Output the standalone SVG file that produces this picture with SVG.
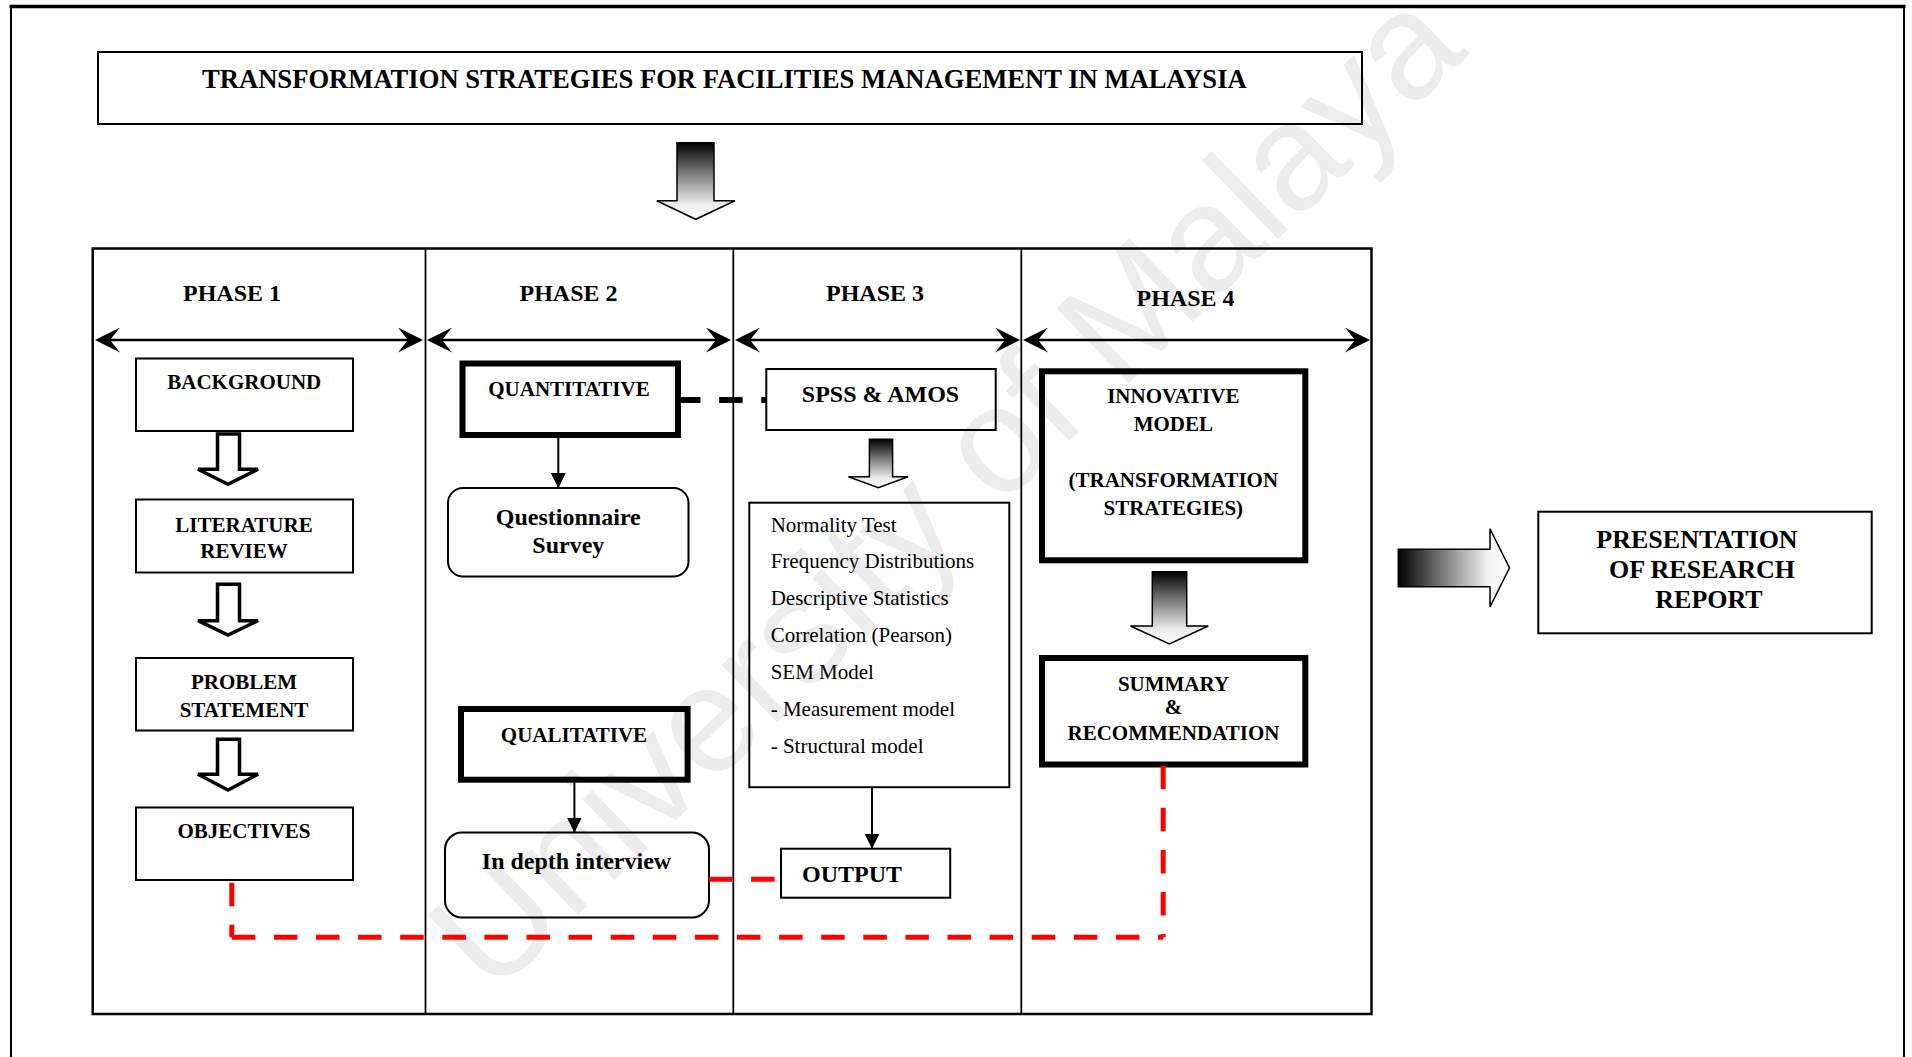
<svg xmlns="http://www.w3.org/2000/svg" width="1912" height="1057" viewBox="0 0 1912 1057">
  <defs>
    <style>
      .box { fill: none; stroke: #000; stroke-width: 2; }
      .heavy { fill: none; stroke: #000; stroke-width: 6; }
      .lbl { font-family: "Liberation Serif", "Times New Roman", serif; font-weight: bold; fill: #000; }
      .item { font-family: "Liberation Serif", "Times New Roman", serif; font-size: 21px; fill: #000; }
      .s21 { font-size: 21px; }
      .s24 { font-size: 24px; }
      .mid { text-anchor: middle; }
      .span { fill: none; stroke: #000; stroke-width: 2.5; marker-start: url(#barb); marker-end: url(#barb); }
      .link { fill: none; stroke: #000; stroke-width: 2; marker-end: url(#tri); }
      .hollow { fill: #fff; stroke: #000; stroke-width: 3.5; stroke-linejoin: miter; }
      .shade { stroke: #000; stroke-width: 1.5; }
      .red { fill: none; stroke: #ff0000; stroke-width: 5; stroke-dasharray: 23.5 18.6; }
      .blk { fill: none; stroke: #000; stroke-width: 6; stroke-dasharray: 23.5 18.6; }
    </style>
    <linearGradient id="fadeDown" x1="0" y1="0" x2="0" y2="1">
      <stop offset="0" stop-color="#000"/>
      <stop offset="0.45" stop-color="#8a8a8a"/>
      <stop offset="0.8" stop-color="#ececec"/>
      <stop offset="1" stop-color="#fff"/>
    </linearGradient>
    <linearGradient id="fadeRight" x1="0" y1="0" x2="1" y2="0">
      <stop offset="0" stop-color="#000"/>
      <stop offset="0.45" stop-color="#8a8a8a"/>
      <stop offset="0.8" stop-color="#f0f0f0"/>
      <stop offset="1" stop-color="#fff"/>
    </linearGradient>
    <marker id="barb" markerUnits="userSpaceOnUse" markerWidth="25" markerHeight="25" viewBox="0 0 25 25" refX="10" refY="12.5" orient="auto-start-reverse">
      <path d="M0,0 L25,12.5 L0,25 L10,12.5 Z" fill="#000"/>
    </marker>
    <marker id="tri" markerUnits="userSpaceOnUse" markerWidth="15" markerHeight="15" viewBox="0 0 15 15" refX="15" refY="7.5" orient="auto">
      <path d="M0,0 L15,7.5 L0,15 Z" fill="#000"/>
    </marker>
  </defs>

  <rect width="1912" height="1057" fill="#fff"/>

  <!-- page watermark -->
  <text x="492" y="998" transform="rotate(-44 492 998)" font-family="Liberation Sans, Arial, sans-serif" font-size="151" fill="#ececec">University of Malaya</text>

  <!-- page frame -->
  <g id="frame" fill="none" stroke="#000">
    <line x1="9.5" y1="6.5" x2="1905.5" y2="6.5" stroke-width="3.5"/>
    <line x1="11" y1="6" x2="11" y2="1057" stroke-width="2"/>
    <line x1="1904" y1="6" x2="1904" y2="1057" stroke-width="2"/>
  </g>

  <!-- title -->
  <g id="title">
    <rect class="box" x="98" y="52" width="1264" height="72"/>
    <text class="lbl" x="202" y="88" font-size="26.6">TRANSFORMATION STRATEGIES FOR FACILITIES MANAGEMENT IN MALAYSIA</text>
  </g>

  <!-- title to phases -->
  <g id="arrow-title">
    <polygon class="shade" fill="url(#fadeDown)" points="677,142.7 714,142.7 714,200.7 735,200.7 695.7,219.3 656.7,200.7 677,200.7"/>
  </g>

  <!-- phase table -->
  <g id="phase-table" fill="none" stroke="#000">
    <rect x="92.7" y="248.5" width="1278.8" height="765.5" stroke-width="2.5"/>
    <line x1="425.5" y1="248.5" x2="425.5" y2="1014" stroke-width="1.8"/>
    <line x1="733.3" y1="248.5" x2="733.3" y2="1014" stroke-width="1.8"/>
    <line x1="1021.3" y1="248.5" x2="1021.3" y2="1014" stroke-width="1.8"/>
  </g>

  <g id="phase-1-head">
    <text class="lbl s24 mid" x="232" y="301">PHASE 1</text>
    <line class="span" x1="110" y1="340" x2="408" y2="340"/>
  </g>
  <g id="phase-2-head">
    <text class="lbl s24 mid" x="568.5" y="301">PHASE 2</text>
    <line class="span" x1="442" y1="340" x2="716" y2="340"/>
  </g>
  <g id="phase-3-head">
    <text class="lbl s24 mid" x="875" y="301">PHASE 3</text>
    <line class="span" x1="750" y1="340" x2="1005" y2="340"/>
  </g>
  <g id="phase-4-head">
    <text class="lbl s24 mid" x="1185.5" y="306">PHASE 4</text>
    <line class="span" x1="1038" y1="340" x2="1355" y2="340"/>
  </g>

  <!-- phase 1 -->
  <g id="background">
    <rect class="box" x="136" y="358.5" width="217" height="72.5"/>
    <text class="lbl s21 mid" x="244.3" y="389">BACKGROUND</text>
  </g>
  <g id="literature-review">
    <rect class="box" x="136" y="499.5" width="217" height="73"/>
    <text class="lbl s21 mid" x="244" y="531.7">LITERATURE</text>
    <text class="lbl s21 mid" x="244" y="558.3">REVIEW</text>
  </g>
  <g id="problem-statement">
    <rect class="box" x="136" y="658" width="217" height="72.5"/>
    <text class="lbl s21 mid" x="244" y="689.3">PROBLEM</text>
    <text class="lbl s21 mid" x="244" y="717.3">STATEMENT</text>
  </g>
  <g id="objectives">
    <rect class="box" x="136" y="807.5" width="217" height="72.5"/>
    <text class="lbl s21 mid" x="244" y="838.3">OBJECTIVES</text>
  </g>

  <!-- phase 2 -->
  <g id="quantitative">
    <rect class="heavy" x="462.5" y="363.5" width="215.5" height="71.5" stroke-width="5"/>
    <text class="lbl s21 mid" x="569" y="395.7">QUANTITATIVE</text>
  </g>
  <g id="questionnaire-survey">
    <rect class="box" x="448" y="488" width="240.5" height="88.5" rx="15" ry="15"/>
    <text class="lbl s24 mid" x="568.3" y="525">Questionnaire</text>
    <text class="lbl s24 mid" x="568.3" y="553.3">Survey</text>
  </g>
  <g id="qualitative">
    <rect class="heavy" x="461" y="709" width="226.6" height="70.7"/>
    <text class="lbl s21 mid" x="574" y="741.7">QUALITATIVE</text>
  </g>
  <g id="in-depth-interview">
    <rect class="box" x="445" y="832.5" width="264" height="85" rx="17" ry="17"/>
    <text class="lbl s24 mid" x="576.5" y="869.3">In depth interview</text>
  </g>

  <!-- phase 3 -->
  <g id="spss-amos">
    <rect class="box" x="766.3" y="369" width="229.4" height="61"/>
    <text class="lbl s24 mid" x="880.5" y="402.3">SPSS &amp; AMOS</text>
  </g>
  <g id="analysis-list">
    <rect class="box" x="749.3" y="502.7" width="260" height="284.5"/>
    <text class="item" x="770.7" y="531.7">Normality Test</text>
    <text class="item" x="770.7" y="568.3">Frequency Distributions</text>
    <text class="item" x="770.7" y="605">Descriptive Statistics</text>
    <text class="item" x="770.7" y="641.7">Correlation (Pearson)</text>
    <text class="item" x="770.7" y="679">SEM Model</text>
    <text class="item" x="770.7" y="715.7">- Measurement model</text>
    <text class="item" x="770.7" y="752.7">- Structural model</text>
  </g>
  <g id="output">
    <rect class="box" x="781" y="848.7" width="169.2" height="49"/>
    <text class="lbl s24" x="802" y="881.7">OUTPUT</text>
  </g>

  <!-- phase 4 -->
  <g id="innovative-model">
    <rect class="heavy" x="1042" y="371.3" width="263.3" height="189"/>
    <text class="lbl s21 mid" x="1173.3" y="403.3">INNOVATIVE</text>
    <text class="lbl s21 mid" x="1173.3" y="431">MODEL</text>
    <text class="lbl s21 mid" x="1173.3" y="486.7">(TRANSFORMATION</text>
    <text class="lbl s21 mid" x="1173.3" y="515">STRATEGIES)</text>
  </g>
  <g id="summary-recommendation">
    <rect class="heavy" x="1042" y="658" width="263.3" height="106.5"/>
    <text class="lbl s21 mid" x="1173.5" y="691">SUMMARY</text>
    <text class="lbl s21 mid" x="1173.5" y="714">&amp;</text>
    <text class="lbl s21 mid" x="1173.5" y="740">RECOMMENDATION</text>
  </g>

  <!-- report -->
  <g id="presentation-report">
    <rect class="box" x="1538.3" y="511.7" width="333.4" height="121.6"/>
    <text class="lbl mid" font-size="26" x="1697" y="548">PRESENTATION</text>
    <text class="lbl mid" font-size="26" x="1702" y="578">OF RESEARCH</text>
    <text class="lbl mid" font-size="26" x="1709" y="608">REPORT</text>
  </g>

  <!-- connectors -->
  <g id="connectors">
    <!-- phase 1 block arrows -->
    <polygon class="hollow" points="217.5,434 239.5,434 239.5,469.3 258,469.3 228,484.3 198,469.3 217.5,469.3"/>
    <polygon class="hollow" points="217.5,584.3 239.5,584.3 239.5,620.7 258,620.7 228,635 198,620.7 217.5,620.7"/>
    <polygon class="hollow" points="217.5,739.3 239.5,739.3 239.5,774.3 258,774.3 228,790 198,774.3 217.5,774.3"/>

    <!-- phase 2 -->
    <line class="link" x1="558.3" y1="437.5" x2="558.3" y2="488"/>
    <line class="link" x1="574.4" y1="782.5" x2="574.4" y2="832.5"/>
    <line class="blk" x1="677" y1="400" x2="766" y2="400"/>
    <line class="red" x1="709" y1="879.3" x2="776" y2="879.3"/>

    <!-- phase 3 -->
    <polygon class="shade" fill="url(#fadeDown)" points="869.4,439.3 892.6,439.3 892.6,476.7 908.1,476.7 878.3,487.7 848.4,476.7 869.4,476.7"/>
    <line class="link" x1="872" y1="788" x2="872" y2="848.7"/>

    <!-- phase 4 -->
    <polygon class="shade" fill="url(#fadeDown)" points="1152.3,571.7 1186.7,571.7 1186.7,626 1208.3,626 1169.4,644 1130.4,626 1152.3,626"/>

    <!-- objectives / summary feedback loop -->
    <line class="red" x1="231.8" y1="882.7" x2="231.8" y2="937.3"/>
    <line class="red" x1="231.8" y1="937.3" x2="1163.2" y2="937.3"/>
    <line class="red" x1="1163.2" y1="765.7" x2="1163.2" y2="937.3"/>

    <!-- to report -->
    <polygon class="shade" fill="url(#fadeRight)" points="1398.3,549.3 1490,549.3 1490,528.8 1509.5,567.8 1490,606.8 1490,586.7 1398.3,586.7"/>
  </g>
</svg>
